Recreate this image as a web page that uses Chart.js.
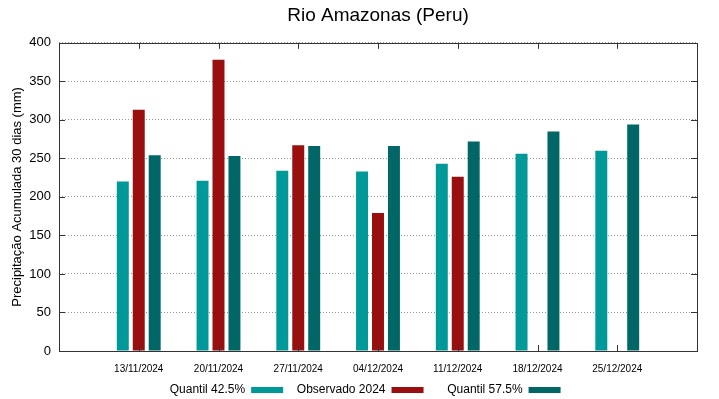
<!DOCTYPE html>
<html>
<head>
<meta charset="utf-8">
<script src="https://cdn.jsdelivr.net/npm/chart.js@4/dist/chart.umd.min.js"></script>
<style>
  html, body { margin: 0; padding: 0; background: #fff; }
  #wrap { width: 719px; height: 399px; }
</style>
</head>
<body>
<div id="wrap"><canvas id="chart" width="719" height="399"></canvas></div>
<script>
// dates (blank slot on both ends, like the gnuplot x range)
const dates = ['', '13/11/2024', '20/11/2024', '27/11/2024', '04/12/2024', '11/12/2024', '18/12/2024', '25/12/2024', ''];
const quantil425 = [null, 220, 221, 234, 233, 243, 256, 260, null];
const observado = [null, 313, 378, 267, 179, 226, null, null, null];
const quantil575 = [null, 254, 253, 266, 266, 272, 285, 294, null];
const yTicks = [0, 50, 100, 150, 200, 250, 300, 350, 400];
// leading blanks to mimic gnuplot key column spacing
const legendGap = [10, 2, 5];

// frame + inward ticks, gnuplot style
const framePlugin = {
    id: 'frame',
    afterDatasetsDraw(chart) {
        const ctx = chart.ctx;
        const a = chart.chartArea;
        const x = chart.scales.x, y = chart.scales.y;
        ctx.save();
        ctx.strokeStyle = '#333';
        ctx.lineWidth = 1;
        ctx.beginPath();
        for (let i = 1; i < dates.length - 1; i++) {
            const px = Math.round(x.getPixelForValue(i)) + 0.5;
            ctx.moveTo(px, a.top); ctx.lineTo(px, a.top + 6);
            ctx.moveTo(px, a.bottom); ctx.lineTo(px, a.bottom - 6);
        }
        yTicks.forEach(function(v) {
            const py = Math.round(y.getPixelForValue(v)) + 0.5;
            ctx.moveTo(a.left, py); ctx.lineTo(a.left + 6, py);
            ctx.moveTo(a.right, py); ctx.lineTo(a.right - 6, py);
        });
        ctx.stroke();
        ctx.strokeRect(Math.round(a.left) + 0.5, Math.round(a.top) + 0.5,
            Math.round(a.right - a.left), Math.round(a.bottom - a.top));
        ctx.restore();
    }
};

const ctx = document.getElementById('chart').getContext('2d');
new Chart(ctx, {
    type: 'bar',
    data: {
        labels: dates,
        datasets: [{
            label: 'Quantil 42.5%',
            data: quantil425,
            backgroundColor: '#009999'
        }, {
            label: 'Observado 2024',
            data: observado,
            backgroundColor: '#990e0e'
        }, {
            label: 'Quantil 57.5%',
            data: quantil575,
            backgroundColor: '#006666'
        }]
    },
    options: {
        responsive: false,
        animation: false,
        categoryPercentage: 0.6,
        barPercentage: 0.75,
        layout: { padding: { left: 0, right: 22, top: 0, bottom: -7 } },
        plugins: {
            title: {
                display: true,
                text: 'Rio Amazonas (Peru)',
                fullSize: false,
                color: '#000',
                font: { family: 'Liberation Sans', size: 19, weight: 'normal' },
                padding: { top: 4, bottom: 16 }
            },
            legend: {
                position: 'bottom',
                rtl: true,
                reverse: true,
                fullSize: true,
                labels: {
                    color: '#000',
                    font: { family: 'Liberation Sans', size: 12 },
                    boxWidth: 32,
                    boxHeight: 6,
                    padding: 7,
                    generateLabels: function(chart) {
                        const items = Chart.defaults.plugins.legend.labels.generateLabels(chart);
                        items.forEach(function(it) {
                            it.text = ' '.repeat(legendGap[it.datasetIndex]) + it.text;
                            it.lineWidth = 0;
                        });
                        return items;
                    }
                }
            },
            tooltip: { enabled: false }
        },
        scales: {
            x: {
                offset: false,
                grid: { display: false, drawTicks: false },
                border: { display: false },
                ticks: {
                    color: '#000',
                    autoSkip: false,
                    maxRotation: 0,
                    padding: 12,
                    font: { family: 'Liberation Sans', size: 10 }
                },
                afterFit: function(scale) { scale.height = 26; }
            },
            y: {
                min: 0,
                max: 400,
                afterBuildTicks: function(scale) {
                    scale.ticks = yTicks.map(function(v) { return { value: v }; });
                },
                grid: {
                    color: '#999',
                    lineWidth: 1,
                    drawTicks: false
                },
                border: { display: false, dash: [1, 2] },
                ticks: {
                    color: '#000',
                    padding: 8,
                    font: { family: 'Liberation Sans', size: 13 }
                },
                title: {
                    display: true,
                    text: 'Precipitação Acumulada 30 dias (mm)',
                    color: '#000',
                    font: { family: 'Liberation Sans', size: 13 },
                    padding: { top: 10, bottom: 0 }
                },
                afterFit: function(scale) { scale.width = 59; }
            }
        }
    },
    plugins: [framePlugin]
});
</script>
</body>
</html>
